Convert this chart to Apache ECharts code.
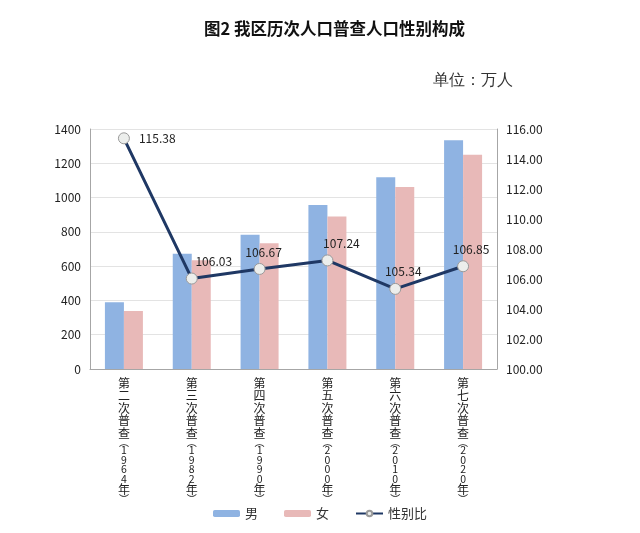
<!DOCTYPE html>
<html>
<head>
<meta charset="utf-8">
<script src="https://cdn.jsdelivr.net/npm/echarts@6/dist/echarts.min.js"></script>
<style>
  html, body { margin: 0; padding: 0; background: #fff; }
  #main { width: 640px; height: 533px; }
</style>
</head>
<body>
<div id="main"></div>
<script>
var censuses = ['第二次普查（1964年）', '第三次普查（1982年）', '第四次普查（1990年）',
                '第五次普查（2000年）', '第六次普查（2010年）', '第七次普查（2020年）'];
var male = [389, 673, 783, 956, 1119, 1335];
var female = [338, 635, 734, 890, 1062, 1250];
var sexRatio = [115.38, 106.03, 106.67, 107.24, 105.34, 106.85];

var font = '"Noto Sans CJK SC", "Noto Sans", sans-serif';

// vertical label: one glyph per line, digits smaller
function verticalLabel(s) {
    var out = [];
    for (var i = 0; i < s.length; i++) {
        var ch = s.charAt(i);
        if (ch === '（') out.push('{p|︵}');
        else if (ch === '）') out.push('{p|︶}');
        else if (/[0-9]/.test(ch)) out.push('{d|' + ch + '}');
        else out.push('{c|' + ch + '}');
    }
    return out.join('\n');
}

// label offsets for the ratio line, per point
var ratioLabelPos = [
    { position: 'right', offset: [4, 0] },
    { position: 'top', offset: [22, 0] },
    { position: 'top', offset: [4, 0] },
    { position: 'top', offset: [14, 0] },
    { position: 'top', offset: [8, 0] },
    { position: 'top', offset: [8, 0] }
];

var myChart = echarts.init(document.getElementById('main'));
var option = {
    backgroundColor: '#ffffff',
    textStyle: { fontFamily: font },
    title: {
        text: '图2 我区历次人口普查人口性别构成',
        left: 199,
        top: 15,
        textStyle: { fontSize: 16.5, fontWeight: 'bold', color: '#111', fontFamily: font }
    },
    graphic: [{
        type: 'text',
        left: 433,
        top: 73,
        style: { text: '单位：万人', fontSize: 16, fill: '#333', font: '16px ' + font }
    }],
    legend: {
        bottom: 8,
        left: 'center',
        itemWidth: 27,
        itemHeight: 7,
        itemGap: 26,
        textStyle: { fontSize: 13, color: '#333', fontFamily: font },
        data: ['男', '女', '性别比']
    },
    grid: { left: 90, right: 143, top: 129, bottom: 164 },
    xAxis: [{
        type: 'category',
        data: censuses,
        axisLine: { lineStyle: { color: '#a6a6a6' } },
        axisTick: { inside: true, length: 5, lineStyle: { color: '#a6a6a6' } },
        axisLabel: {
            interval: 0,
            margin: 8,
            color: '#222',
            formatter: verticalLabel,
            rich: {
                c: { fontSize: 12, lineHeight: 12.5, color: '#222', fontFamily: font },
                d: { fontSize: 10.5, lineHeight: 9.5, color: '#222', fontFamily: font },
                p: { fontSize: 10, lineHeight: 6, color: '#222', fontFamily: font }
            }
        }
    }],
    yAxis: [{
        type: 'value',
        min: 0,
        max: 1400,
        interval: 200,
        axisLine: { show: true, lineStyle: { color: '#a6a6a6' } },
        axisTick: { show: false },
        splitLine: { lineStyle: { color: '#e3e3e3' } },
        axisLabel: {
            color: '#222',
            fontSize: 12,
            margin: 9,
            formatter: function (v) { return String(v); }
        }
    }, {
        type: 'value',
        min: 100,
        max: 116,
        interval: 2,
        axisLine: { show: true, lineStyle: { color: '#a6a6a6' } },
        axisTick: { show: false },
        splitLine: { show: false },
        axisLabel: {
            color: '#222',
            fontSize: 12,
            margin: 9,
            formatter: function (v) { return v.toFixed(2); }
        }
    }],
    series: [{
        name: '男',
        type: 'bar',
        data: male,
        barWidth: 19,
        barGap: '0%',
        itemStyle: { color: '#8fb3e2' }
    }, {
        name: '女',
        type: 'bar',
        data: female,
        barWidth: 19,
        itemStyle: { color: '#e8b9b8' }
    }, {
        name: '性别比',
        type: 'line',
        yAxisIndex: 1,
        data: sexRatio.map(function (v, i) {
            return { value: v, label: ratioLabelPos[i] };
        }),
        symbol: 'circle',
        symbolSize: 11,
        z: 5,
        lineStyle: { color: '#1f3864', width: 3 },
        itemStyle: { color: '#eceeec', borderColor: '#9a9a9a', borderWidth: 1 },
        label: {
            show: true,
            color: '#222',
            fontSize: 12,
            formatter: function (p) { return p.value.toFixed(2); }
        }
    }]
};
myChart.setOption(option, true);
</script>
</body>
</html>
